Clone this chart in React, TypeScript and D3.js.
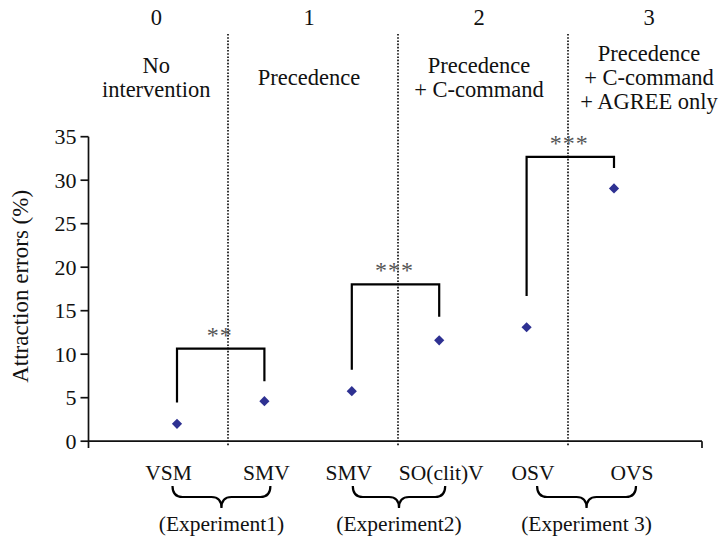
import * as d3 from 'd3'

// conditions along the x axis, left to right
const conditions = ['VSM', 'SMV', 'SMV', 'SO(clit)V', 'OSV', 'OVS']
// attraction errors in %
const errorRates = [2.0, 4.6, 5.75, 11.6, 13.1, 29.05]
const experiments = ['(Experiment1)', '(Experiment2)', '(Experiment 3)']
const regionIds = ['0', '1', '2', '3']
const regionLabels = [
    ['No', 'intervention'],
    ['Precedence'],
    ['Precedence', '+ C-command'],
    ['Precedence', '+ C-command', '+ AGREE only'],
]
const yTicks = [0, 5, 10, 15, 20, 25, 30, 35]
// significance brackets: pair of conditions, leg ends and top in %
const brackets = [
    { a: 0, b: 1, lowA: 4.45, lowB: 6.9, top: 10.63, stars: '**' },
    { a: 2, b: 3, lowA: 8.2, lowB: 14.3, top: 18.03, stars: '***' },
    { a: 4, b: 5, lowA: 16.7, lowB: 31.4, top: 32.67, stars: '***' },
]

const W = 721
const H = 536
const axisX = 88.5
const font = '"Liberation Serif", "Times New Roman", serif'
// small nudges of the category labels under the axis
const labelDx = [-8.5, 2, -3, 2, 6.5, 18]

function brace(x1: number, x2: number, y: number, h: number) {
    const mid = (x1 + x2) / 2
    const q = h / 2
    const r = 10
    return `M${x1},${y} Q${x1},${y + q} ${x1 + r},${y + q} L${mid - r},${y + q} Q${mid},${y + q} ${mid},${y + h} Q${mid},${y + q} ${mid + r},${y + q} L${x2 - r},${y + q} Q${x2},${y + q} ${x2},${y}`
}

export default function App() {
    const x = d3.scaleLinear().domain([0, 5]).range([177, 614])
    const y = d3.scaleLinear().domain([0, 35]).range([441.2, 136.7])
    const region = d3.scaleLinear().domain([1, 4]).range([228, 738])
    const regionCenter = (k: number) =>
        k === 0 ? (axisX + region(1)) / 2 - 2 : region(k + 0.5) - 4
    const diamond = d3.symbol(d3.symbolSquare, 52)()

    return (
        <svg
            width={W}
            height={H}
            style={{ position: 'absolute', left: 0, top: 0, background: '#fff' }}
            fontFamily={font}
        >
            {/* region dividers */}
            {[1, 2, 3].map((k) => (
                <line
                    key={k}
                    x1={region(k)}
                    x2={region(k)}
                    y1={34}
                    y2={446}
                    stroke="#111"
                    strokeWidth={1.7}
                    strokeDasharray="1.6,1.6"
                />
            ))}

            {/* region headers */}
            {regionIds.map((id, k) => (
                <g key={id} textAnchor="middle" fontSize={22.5} fill="#111">
                    <text x={regionCenter(k)} y={25}>
                        {id}
                    </text>
                    {regionLabels[k].map((line, i) => (
                        <text
                            key={i}
                            x={regionCenter(k)}
                            y={85 - (regionLabels[k].length - 1) * 12 + i * 24}
                        >
                            {line}
                        </text>
                    ))}
                </g>
            ))}

            {/* axes */}
            <g stroke="#111" strokeWidth={1.7} fill="none">
                <line x1={axisX} x2={axisX} y1={y(35)} y2={448} />
                <line x1={axisX} x2={702} y1={y(0)} y2={y(0)} />
                <line x1={702} x2={702} y1={y(0)} y2={448} />
                {yTicks.map((t) => (
                    <line key={t} x1={axisX - 8} x2={axisX} y1={y(t)} y2={y(t)} />
                ))}
            </g>
            {yTicks.map((t) => (
                <text
                    key={t}
                    x={76.5}
                    y={y(t) + 7.5}
                    textAnchor="end"
                    fontSize={22}
                    fill="#111"
                >
                    {t}
                </text>
            ))}
            <text
                transform={`translate(28,${y(17.8)}) rotate(-90)`}
                textAnchor="middle"
                fontSize={23}
                fill="#111"
            >
                Attraction errors (%)
            </text>

            {/* significance brackets */}
            {brackets.map((b, i) => (
                <g key={i}>
                    <path
                        d={`M${x(b.a)},${y(b.lowA)} V${y(b.top)} H${x(b.b)} V${y(b.lowB)}`}
                        fill="none"
                        stroke="#000"
                        strokeWidth={2.2}
                    />
                    <text
                        x={(x(b.a) + x(b.b)) / 2 - 1}
                        y={y(b.top) - 6}
                        textAnchor="middle"
                        fontSize={24}
                        letterSpacing={1}
                        fill="#555"
                    >
                        {b.stars}
                    </text>
                </g>
            ))}

            {/* data points */}
            {errorRates.map((v, i) => (
                <path
                    key={i}
                    d={diamond}
                    transform={`translate(${x(i)},${y(v)}) rotate(45)`}
                    fill="#2E3192"
                />
            ))}

            {/* condition labels */}
            {conditions.map((c, i) => (
                <text
                    key={i}
                    x={x(i) + labelDx[i]}
                    y={479.5}
                    textAnchor="middle"
                    fontSize={21.5}
                    fill="#111"
                >
                    {c}
                </text>
            ))}

            {/* experiment braces */}
            {experiments.map((e, k) => {
                const x1 = x(2 * k) + labelDx[2 * k] + 4
                const x2 = x(2 * k + 1) + labelDx[2 * k + 1] + 4
                return (
                    <g key={e}>
                        <path
                            d={brace(x1, x2, 486, 22)}
                            fill="none"
                            stroke="#000"
                            strokeWidth={2.2}
                        />
                        <text
                            x={(x1 + x2) / 2}
                            y={531}
                            textAnchor="middle"
                            fontSize={21.5}
                            fill="#111"
                        >
                            {e}
                        </text>
                    </g>
                )
            })}
        </svg>
    )
}
